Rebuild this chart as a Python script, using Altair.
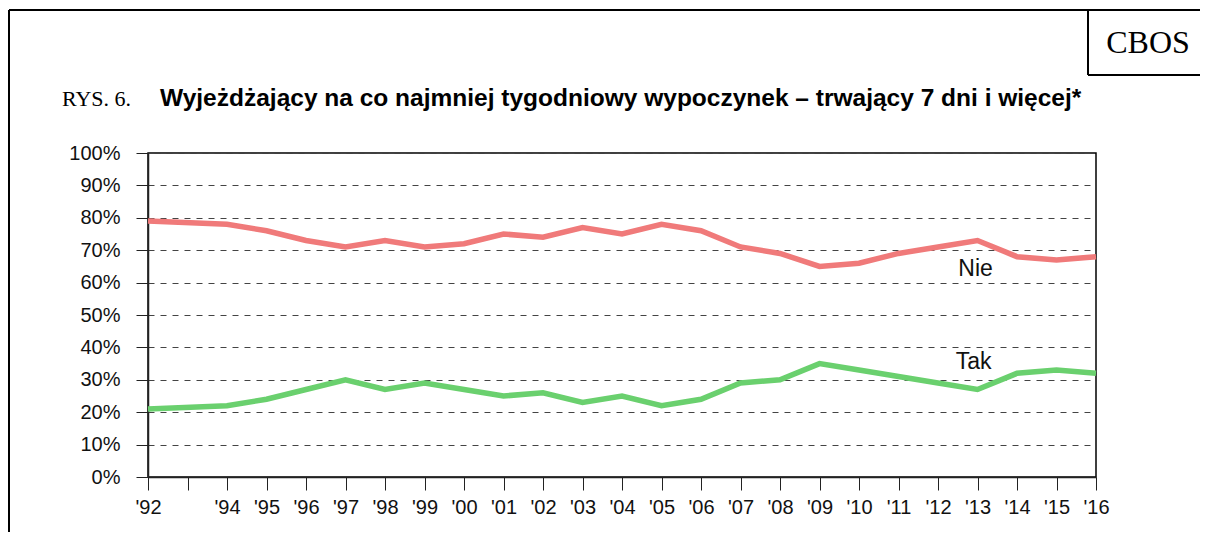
import altair as alt
import pandas as pd

years = [1992, 1994, 1995, 1996, 1997, 1998, 1999, 2000, 2001, 2002, 2003, 2004,
         2005, 2006, 2007, 2008, 2009, 2010, 2011, 2012, 2013, 2014, 2015, 2016]
nie = [79, 78, 76, 73, 71, 73, 71, 72, 75, 74, 77, 75,
       78, 76, 71, 69, 65, 66, 69, 71, 73, 68, 67, 68]
tak = [21, 22, 24, 27, 30, 27, 29, 27, 25, 26, 23, 25,
       22, 24, 29, 30, 35, 33, 31, 29, 27, 32, 33, 32]
series_names = ["Nie", "Tak"]
series_colors = ["#F07A7A", "#6AD06E"]
label_pos = {"Nie": (2012.95, 64.2), "Tak": (2012.9, 35.5)}

rows = []
for y, a, b in zip(years, nie, tak):
    rows.append({"year": y, "value": a, "series": "Nie"})
    rows.append({"year": y, "value": b, "series": "Tak"})
df = pd.DataFrame(rows)
lab = pd.DataFrame([{"series": s, "year": label_pos[s][0], "value": label_pos[s][1]} for s in series_names])

W, H = 948, 324
FONT = "Liberation Sans"

xscale = alt.Scale(domain=[1992, 2016], nice=False, zero=False)
yscale = alt.Scale(domain=[0, 100], nice=False)

xaxis = alt.Axis(values=list(range(1992, 2017)), title=None,
                 labelExpr="datum.value == 1993 ? '' : \"'\" + substring(toString(datum.value), 2, 4)",
                 grid=False, tickSize=13, tickColor="#222", domainColor="#222", domainWidth=1.5,
                 labelFont=FONT, labelFontSize=20, labelColor="#111", labelPadding=7,
                 labelFlush=False, labelOverlap=False)
yaxis = alt.Axis(values=list(range(0, 101, 10)), title=None,
                 labelExpr="datum.value + '%'",
                 grid=True, gridDash=[6, 6], gridColor="#444", gridWidth=1,
                 tickSize=12, tickColor="#222", domainColor="#222", domainWidth=1.5,
                 labelFont=FONT, labelFontSize=20, labelColor="#111", labelPadding=16,
                 labelOverlap=False)

lines = alt.Chart(df).mark_line(strokeWidth=5.5).encode(
    x=alt.X("year:Q", scale=xscale, axis=xaxis),
    y=alt.Y("value:Q", scale=yscale, axis=yaxis),
    color=alt.Color("series:N", scale=alt.Scale(domain=series_names, range=series_colors), legend=None),
)

labels = alt.Chart(lab).mark_text(font=FONT, fontSize=23, color="#111").encode(
    x=alt.X("year:Q", scale=xscale, axis=xaxis),
    y=alt.Y("value:Q", scale=yscale, axis=yaxis),
    text="series:N",
)

def rule(x1, x2, y1, y2, w=2):
    return alt.Chart(pd.DataFrame({"a": [0]})).mark_rule(color="#000", strokeWidth=w).encode(
        x=alt.value(x1), x2=alt.value(x2), y=alt.value(y1), y2=alt.value(y2))

frame = [
    rule(-139, -139, -143, 400),
    rule(-139, 1060, -143, -143),
    rule(940, 940, -143, -78),
    rule(940, 1060, -78, -78),
]

def text(t, x, y, font, size, weight="normal", align="left"):
    return alt.Chart(pd.DataFrame({"a": [0]})).mark_text(
        text=t, font=font, fontSize=size, fontWeight=weight, align=align, baseline="alphabetic", color="#000"
    ).encode(x=alt.value(x), y=alt.value(y))

texts = [
    text("RYS. 6.", -86, -47, "Liberation Serif", 22),
    text("Wyjeżdżający na co najmniej tygodniowy wypoczynek – trwający 7 dni i więcej*", 12, -47, FONT, 24.5, "bold"),
    text("CBOS", 1000, -100, "Liberation Serif", 32, align="center"),
]

chart = alt.layer(lines, labels, *frame, *texts).properties(
    width=W, height=H,
    autosize=alt.AutoSizeParams(type="none"),
    padding={"left": 140, "top": 145, "right": 104, "bottom": 55},
).configure_view(stroke="#000", strokeWidth=1.5)

chart.save("out.html", embed_options={"renderer": "svg", "actions": False})
